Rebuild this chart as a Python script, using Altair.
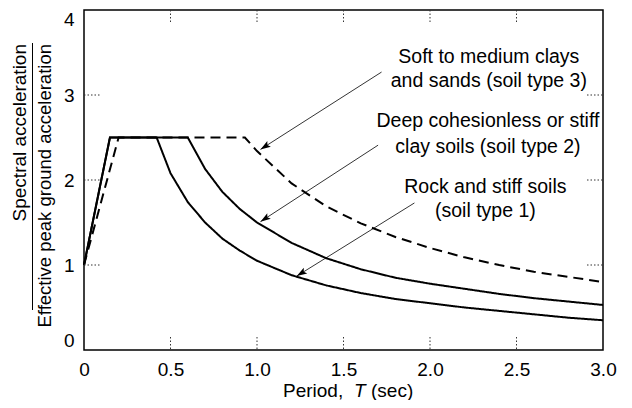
import altair as alt
import pandas as pd
import numpy as np

# ---- data ----
# Rock and stiff soils (soil type 1) - solid
T1 = [0.0, 0.15, 0.42, 0.5, 0.6, 0.7, 0.8, 0.9, 1.0, 1.2, 1.4, 1.6, 1.8, 2.0, 2.2, 2.4, 2.6, 2.8, 3.0]
V1 = [1.0, 2.5, 2.5, 2.08, 1.74, 1.50, 1.31, 1.17, 1.05, 0.88, 0.76, 0.67, 0.60, 0.55, 0.50, 0.46, 0.42, 0.38, 0.35]
# Deep cohesionless or stiff clay soils (soil type 2) - solid
T2 = [0.0, 0.15, 0.6, 0.7, 0.8, 0.9, 1.0, 1.2, 1.4, 1.6, 1.8, 2.0, 2.2, 2.4, 2.6, 2.8, 3.0]
V2 = [1.0, 2.5, 2.5, 2.13, 1.86, 1.66, 1.50, 1.26, 1.08, 0.95, 0.85, 0.78, 0.72, 0.66, 0.61, 0.57, 0.53]
# Soft to medium clays and sands (soil type 3) - dashed
T3 = [0.0, 0.2, 0.93, 1.0, 1.2, 1.4, 1.6, 1.8, 2.0, 2.2, 2.4, 2.6, 2.8, 3.0]
V3 = [1.0, 2.5, 2.5, 2.34, 1.96, 1.69, 1.49, 1.33, 1.20, 1.09, 1.00, 0.92, 0.86, 0.80]

SERIES = ["soil1", "soil2", "soil3"]

ANN_TEXT = ["Soft to medium clays", "and sands (soil type 3)",
            "Deep cohesionless or stiff", "clay soils (soil type 2)",
            "Rock and stiff soils", "(soil type 1)"]
ANN_T = [2.34, 2.34, 2.335, 2.335, 2.32, 2.32]
ANN_V = [3.45, 3.16, 2.69, 2.39, 1.92, 1.63]

ARROW_START_T = [1.72, 1.70, 1.91]
ARROW_START_V = [3.27, 2.41, 1.73]
ARROW_TIP_T = [1.02, 1.02, 1.23]
ARROW_TIP_V = [2.36, 1.51, 0.87]

X_TICKS = [0, 0.5, 1.0, 1.5, 2.0, 2.5, 3.0]
Y_TICKS = [0, 1, 2, 3, 4]
X_INNER = [0.5, 1.0, 1.5, 2.0, 2.5]
Y_INNER = [1, 2, 3]

# ---- layout ----
W, H = 519, 340
FONT = "Liberation Sans"

rows = []
for name, ts, vs in zip(SERIES, [T1, T2, T3], [V1, V2, V3]):
    for i, (t, v) in enumerate(zip(ts, vs)):
        rows.append({"T": t, "v": v, "soil": name, "idx": i})
curves_df = pd.DataFrame(rows)

xs = alt.Scale(domain=[0, 3], nice=False, zero=False)
ys = alt.Scale(domain=[0, 4], nice=False, zero=False)
XAX = alt.Axis(values=X_TICKS, title=None, labelPadding=10, labelFlush=False,
               labelExpr="datum.value == 0 ? '0' : format(datum.value, '.1f')")
YAX = alt.Axis(values=Y_TICKS, title=None, labelPadding=10, labelFlush=True, format="d")


def X(f):
    return alt.X(f, scale=xs, axis=XAX)


def Y(f):
    return alt.Y(f, scale=ys, axis=YAX)


curves = alt.Chart(curves_df).mark_line(color="black", strokeWidth=2).encode(
    x=X("T:Q"),
    y=Y("v:Q"),
    detail="soil:N",
    order=alt.Order("idx:Q"),
    strokeDash=alt.StrokeDash("soil:N",
                              scale=alt.Scale(domain=SERIES, range=[[1, 0], [1, 0], [10, 6]]),
                              legend=None),
)

# dotted inner tick marks
yin = pd.DataFrame({"v": Y_INNER})
xin = pd.DataFrame({"T": X_INNER})
dot = dict(color="#333", strokeWidth=1, strokeDash=[1.5, 2])
left_t = alt.Chart(yin).mark_rule(**dot).encode(
    y=Y("v:Q"), x=alt.value(0), x2=alt.value(16))
right_t = alt.Chart(yin).mark_rule(**dot).encode(
    y=Y("v:Q"), x=alt.value(W - 16), x2=alt.value(W))
bot_t = alt.Chart(xin).mark_rule(**dot).encode(
    x=X("T:Q"), y=alt.value(H - 13), y2=alt.value(H))
top_t = alt.Chart(xin).mark_rule(**dot).encode(
    x=X("T:Q"), y=alt.value(0), y2=alt.value(13))

# annotations
ann_df = pd.DataFrame({"text": ANN_TEXT, "T": ANN_T, "v": ANN_V})
ann = alt.Chart(ann_df).mark_text(font=FONT, fontSize=19.5, align="center",
                                  baseline="middle", color="black").encode(
    x=X("T:Q"), y=Y("v:Q"), text="text:N")

# arrows
sx = np.array(ARROW_START_T); sy = np.array(ARROW_START_V)
tx = np.array(ARROW_TIP_T); ty = np.array(ARROW_TIP_V)
dxp = (tx - sx) * W / 3.0
dyp = -(ty - sy) * H / 4.0
ang = np.mod(np.degrees(np.arctan2(dyp, dxp)), 360)
arr_df = pd.DataFrame({"x1": sx, "y1": sy, "x2": tx, "y2": ty, "ang": ang})
arr_lines = alt.Chart(arr_df).mark_rule(color="black", strokeWidth=0.8).encode(
    x=X("x1:Q"), y=Y("y1:Q"), x2="x2:Q", y2="y2:Q")
arr_heads = alt.Chart(arr_df).mark_point(
    shape="M0,0 L-1,-0.32 L-0.8,0 L-1,0.32 Z", filled=True, color="black",
    opacity=1, size=420, strokeWidth=0).encode(
    x=X("x2:Q"), y=Y("y2:Q"),
    angle=alt.Angle("ang:Q", scale=None))

# axis titles as text
one = pd.DataFrame({"a": [0]})
TY = 381
xt1 = alt.Chart(one).mark_text(text="Period,", font=FONT, fontSize=19, align="left",
                               baseline="middle", color="black").encode(
    x=alt.value(199), y=alt.value(TY))
xt2 = alt.Chart(one).mark_text(text="T", font=FONT, fontSize=19, fontStyle="italic",
                               align="left", baseline="middle", color="black").encode(
    x=alt.value(270), y=alt.value(TY))
xt3 = alt.Chart(one).mark_text(text="(sec)", font=FONT, fontSize=19, align="left",
                               baseline="middle", color="black").encode(
    x=alt.value(287), y=alt.value(TY))
yt1 = alt.Chart(one).mark_text(text="Spectral acceleration", font=FONT, fontSize=19,
                               angle=270, align="right", baseline="middle",
                               color="black").encode(x=alt.value(-64), y=alt.value(34))
yt2 = alt.Chart(one).mark_text(text="Effective peak ground acceleration", font=FONT,
                               fontSize=18.5, angle=270, align="right", baseline="middle",
                               color="black").encode(x=alt.value(-39), y=alt.value(34))
bar = alt.Chart(one).mark_rule(color="black", strokeWidth=1).encode(
    x=alt.value(-51.5), y=alt.value(33), y2=alt.value(300))

chart = alt.layer(
    curves, left_t, right_t, bot_t, top_t, arr_lines, arr_heads, ann,
    xt1, xt2, xt3, yt1, yt2, bar
).properties(
    width=W, height=H,
    autosize=alt.AutoSizeParams(type="none"),
    padding={"left": 76, "top": 2, "right": 20, "bottom": 50},
    background="white",
).configure_view(
    stroke="black", strokeWidth=1.5
).configure_axis(
    grid=False, ticks=False, domain=False,
    labelFont=FONT, labelFontSize=19, labelColor="black",
)

chart.save("out.html", embed_options={"renderer": "svg", "actions": False})
